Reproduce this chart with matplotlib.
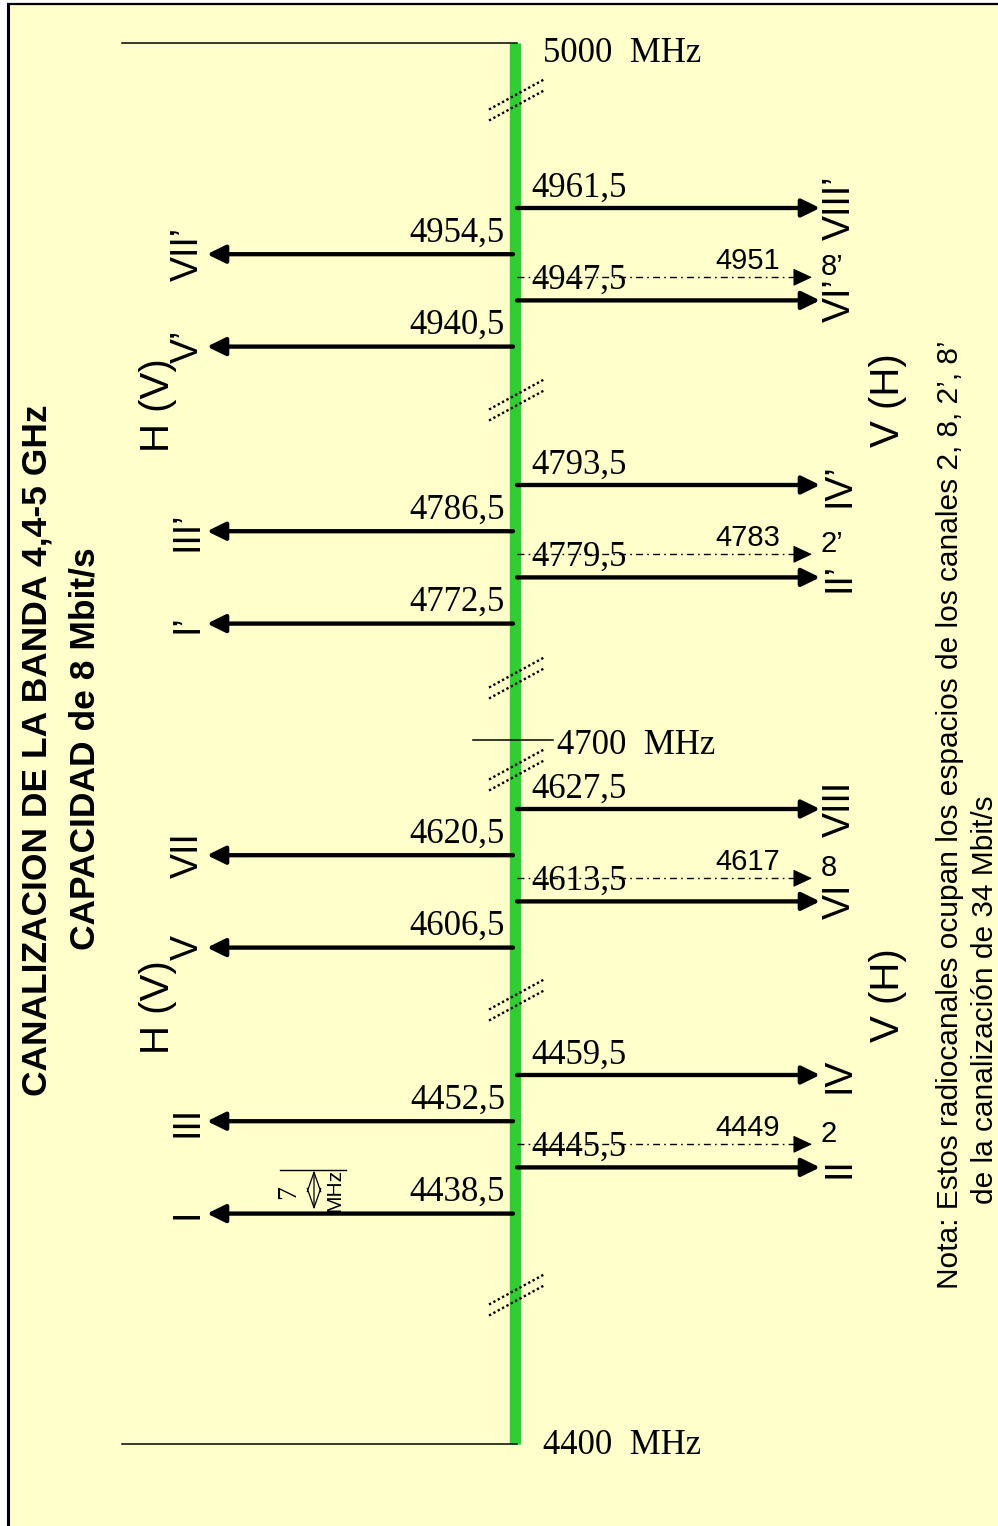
import matplotlib
matplotlib.use("Agg")
import matplotlib.pyplot as plt
from matplotlib.patches import Rectangle

# ---------------- data ----------------
right_freqs = [4961.5, 4947.5, 4793.5, 4779.5, 4627.5, 4613.5, 4459.5, 4445.5]
right_labels = ["VIII’", "VI’", "IV’", "II’", "VIII", "VI", "IV", "II"]
left_freqs = [4954.5, 4940.5, 4786.5, 4772.5, 4620.5, 4606.5, 4452.5, 4438.5]
left_labels = ["VII’", "V’", "III’", "I’", "VII", "V", "III", "I"]
dashed_freqs = [4951, 4783, 4617, 4449]
dashed_labels = ["8’", "2’", "8", "2"]
edge_freqs = [5000, 4700, 4400]
title_lines = ["CANALIZACION DE LA BANDA 4,4-5 GHz", "CAPACIDAD de 8 Mbit/s"]
note_lines = ["Nota: Estos radiocanales ocupan los espacios de los canales 2, 8, 2’, 8’",
              "de la canalización de 34 Mbit/s"]
pol_left = "H (V)"
pol_right = "V (H)"

# ---------------- layout (diagram is broken; each group has its own anchor) ----
group_top_freq = [4961.5, 4793.5, 4627.5, 4459.5]
group_top_y = [208, 485, 809, 1075]
px_per_mhz = 6.6
edge_y = [43, 740, 1444]
break_y = [105, 405, 683, 775, 1005, 1300]

def f2y(f):
    for tf, ty in zip(group_top_freq, group_top_y):
        if tf - 25 <= f <= tf + 0.01:
            return ty + (tf - f) * px_per_mhz
    return edge_y[edge_freqs.index(f)]

def fmt(f):
    return ("%g" % f).replace(".", ",")

SERIF = "Liberation Serif"
SANS = "Liberation Sans"
BAR_X = 515
R_TIP = 820
L_TIP = 207
D_TIP = 812

fig = plt.figure(figsize=(9.98, 15.26), dpi=100, facecolor="white")
ax = fig.add_axes([0, 0, 1, 1])
ax.set_xlim(0, 998)
ax.set_ylim(1526, 0)
ax.axis("off")

# background panel
ax.add_patch(Rectangle((8, 4), 1000, 1530, facecolor="#FFFFCC", edgecolor="none", zorder=0))
ax.plot([8, 8], [3, 1526], color="black", lw=2.2, solid_capstyle="butt", zorder=1)
ax.plot([7, 998], [4, 4], color="black", lw=1.6, solid_capstyle="butt", zorder=1)

# frequency bar
ax.plot([BAR_X, BAR_X], [edge_y[0], edge_y[2]], color="#33CC33", lw=8.2,
        solid_capstyle="butt", zorder=2)
ax.plot([122, BAR_X + 2], [edge_y[0], edge_y[0]], color="black", lw=1.1, zorder=3)
ax.plot([122, BAR_X + 2], [edge_y[2], edge_y[2]], color="black", lw=1.1, zorder=3)
ax.plot([473, 553], [edge_y[1], edge_y[1]], color="black", lw=1.1, zorder=3)
edge_text_x = [543, 557, 543]
edge_text_dy = [11, 6, 2]
for f, y, x, dy in zip(edge_freqs, edge_y, edge_text_x, edge_text_dy):
    ax.text(x, y + dy, "%d  MHz" % f, family=SERIF, fontsize=25, ha="left", va="center", zorder=4)

# break marks
for by in break_y:
    for off in (-5.5, 5.5):
        ax.plot([489, 544], [by + 10 + off, by - 20 + off], color="black", lw=1.7,
                dashes=(1, 1.1), zorder=4)

solid_props = dict(arrowstyle="-|>,head_length=0.55,head_width=0.27", mutation_scale=20,
                   lw=3.1, color="black", shrinkA=0, shrinkB=0)

# right (solid) arrows
for f, lab in zip(right_freqs, right_labels):
    y = f2y(f)
    ax.annotate("", xy=(R_TIP, y), xytext=(BAR_X + 2, y), arrowprops=solid_props, zorder=5)
    ax.text(531, y - 20, fmt(f), family=SERIF, fontsize=25, ha="left", va="center", zorder=6)
    ax.text(840, y, lab, family=SANS, fontsize=27, rotation=90, ha="center", va="center", zorder=6)

# left (solid) arrows
for f, lab in zip(left_freqs, left_labels):
    y = f2y(f)
    ax.annotate("", xy=(L_TIP, y), xytext=(BAR_X - 2, y), arrowprops=solid_props, zorder=5)
    ax.text(505, y - 21, fmt(f), family=SERIF, fontsize=25, ha="right", va="center", zorder=6)
    ax.text(188, y, lab, family=SANS, fontsize=27, rotation=90, ha="center", va="center", zorder=6)

# dashed (34 Mbit/s) arrows
dash_props = dict(arrowstyle="-|>,head_length=0.6,head_width=0.28", mutation_scale=20,
                  lw=0.8, color="black", shrinkA=0, shrinkB=0)
for f, lab in zip(dashed_freqs, dashed_labels):
    y = f2y(f)
    ax.plot([BAR_X + 2, D_TIP - 14], [y, y], color="black", lw=1.0,
            dashes=(5, 3, 1.2, 3), zorder=5)
    ax.annotate("", xy=(D_TIP, y), xytext=(D_TIP - 16, y), arrowprops=dash_props, zorder=5)
    ax.text(780, y - 16, "%d" % f, family=SANS, fontsize=21, ha="right", va="center", zorder=6)
    ax.text(821, y - 10, lab, family=SANS, fontsize=21, ha="left", va="center", zorder=6)

# polarisation labels
for gy_left, gy_right in ((405, 400), (1007, 995)):
    ax.text(158, gy_left, pol_left, family=SANS, fontsize=29, rotation=90,
            ha="center", va="center", zorder=6)
    ax.text(888, gy_right, pol_right, family=SANS, fontsize=29, rotation=90,
            ha="center", va="center", zorder=6)

# 7 MHz spacing marker
y_ref = f2y(left_freqs[-1])
y_top = y_ref - 7 * px_per_mhz + 3
ax.plot([280, 346], [y_top, y_top], color="black", lw=1.0, zorder=5)
ax.annotate("", xy=(314, y_top), xytext=(314, y_ref - 4),
            arrowprops=dict(arrowstyle="<->,head_length=1.0,head_width=0.35", mutation_scale=14,
                            lw=0.9, color="black", shrinkA=0, shrinkB=0), zorder=5)
ax.text(289, y_ref - 22, "7", family=SERIF, fontsize=20, rotation=90, ha="center", va="center", zorder=6)
ax.text(335, y_ref - 23, "MHz", family=SANS, fontsize=15, rotation=90, ha="center", va="center", zorder=6)

# title
ax.text(37, 750, title_lines[0], family=SANS, fontsize=25.5, fontweight="bold",
        rotation=90, ha="center", va="center", zorder=6)
ax.text(85, 749, title_lines[1], family=SANS, fontsize=25.5, fontweight="bold",
        rotation=90, ha="center", va="center", zorder=6)

# note
ax.text(950, 815, note_lines[0], family=SANS, fontsize=21.5, rotation=90,
        ha="center", va="center", zorder=6)
ax.text(985, 1000, note_lines[1], family=SANS, fontsize=21.5, rotation=90,
        ha="center", va="center", zorder=6)

fig.savefig("out.png", dpi=100, facecolor="white")
